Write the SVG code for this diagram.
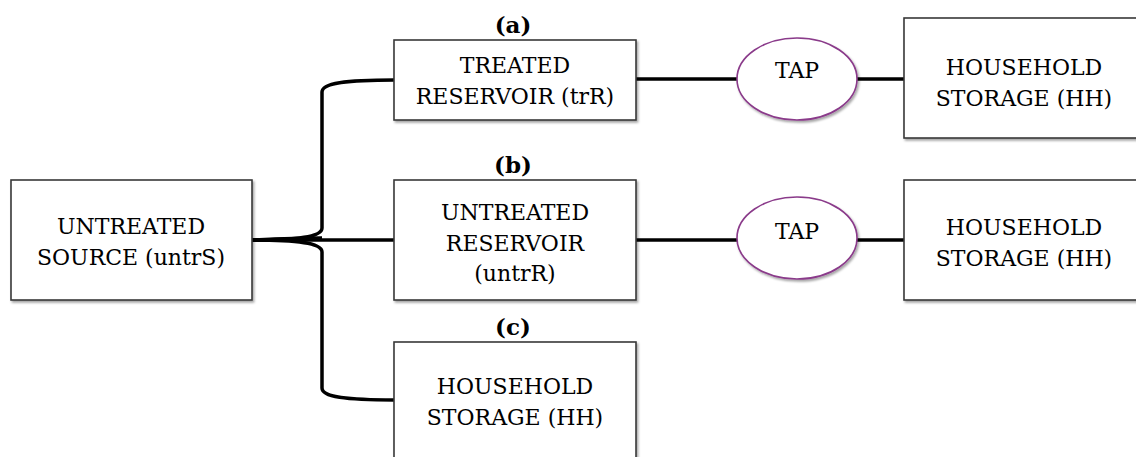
<svg xmlns="http://www.w3.org/2000/svg" width="1136" height="457" viewBox="0 0 1136 457">
<defs>
<style>
.box{fill:#fff;stroke:#3a3a3a;stroke-width:1.6}
.tap{fill:#fff;stroke:#8a3a8a;stroke-width:1.6}
.t{font-family:"DejaVu Serif","Liberation Serif",serif;font-size:22px;fill:#000;text-anchor:middle}
.lbl{font-family:"DejaVu Serif","Liberation Serif",serif;font-size:23px;font-weight:bold;fill:#000;text-anchor:middle}
.c{fill:none;stroke:#000;stroke-width:3.5}
</style>
<filter id="sh" x="-5%" y="-5%" width="115%" height="120%">
<feDropShadow dx="1.5" dy="2" stdDeviation="1.2" flood-color="#000" flood-opacity="0.35"/>
</filter>
</defs>
<rect width="1136" height="457" fill="#fff"/>
<g id="connectors">
<path class="c" d="M252,240 C292,240 322,238 322,228 L322,92 C322,83 345,80 394,80"/>
<path class="c" d="M252,240 C292,240 322,242 322,252 L322,388 C322,397 345,400 394,400"/>
<path class="c" d="M252,240 L394,240"/>
<path class="c" d="M252,240 C275,239 300,238 322,238" stroke-width="2"/>
<path class="c" d="M636,79 L737,79"/>
<path class="c" d="M857,79 L904,79"/>
<path class="c" d="M636,240 L737,240"/>
<path class="c" d="M857,240 L904,240"/>
</g>
<g id="source">
<rect class="box" filter="url(#sh)" x="11" y="180" width="241" height="120"/>
<text class="t" x="131" y="234">UNTREATED</text>
<text class="t" x="131" y="265">SOURCE (untrS)</text>
</g>
<g id="treated-reservoir">
<rect class="box" filter="url(#sh)" x="394" y="40" width="242" height="80"/>
<text class="t" x="515" y="73">TREATED</text>
<text class="t" x="515" y="104">RESERVOIR (trR)</text>
</g>
<g id="label-a"><text class="lbl" x="513" y="33">(a)</text></g>
<g id="untreated-reservoir">
<rect class="box" filter="url(#sh)" x="394" y="180" width="242" height="120"/>
<text class="t" x="515" y="220">UNTREATED</text>
<text class="t" x="515" y="251">RESERVOIR</text>
<text class="t" x="515" y="281">(untrR)</text>
</g>
<g id="label-b"><text class="lbl" x="513" y="173">(b)</text></g>
<g id="household-c">
<rect class="box" filter="url(#sh)" x="394" y="342" width="242" height="130"/>
<text class="t" x="515" y="394">HOUSEHOLD</text>
<text class="t" x="515" y="425">STORAGE (HH)</text>
</g>
<g id="label-c"><text class="lbl" x="513" y="335">(c)</text></g>
<g id="tap-a">
<ellipse class="tap" filter="url(#sh)" cx="797" cy="79" rx="60" ry="41"/>
<text class="t" x="797" y="78">TAP</text>
</g>
<g id="tap-b">
<ellipse class="tap" filter="url(#sh)" cx="797" cy="238" rx="60" ry="41"/>
<text class="t" x="797" y="239">TAP</text>
</g>
<g id="household-a">
<rect class="box" filter="url(#sh)" x="904" y="18" width="250" height="120"/>
<text class="t" x="1024" y="75">HOUSEHOLD</text>
<text class="t" x="1024" y="106">STORAGE (HH)</text>
</g>
<g id="household-b">
<rect class="box" filter="url(#sh)" x="904" y="180" width="250" height="120"/>
<text class="t" x="1024" y="235">HOUSEHOLD</text>
<text class="t" x="1024" y="266">STORAGE (HH)</text>
</g>
</svg>
